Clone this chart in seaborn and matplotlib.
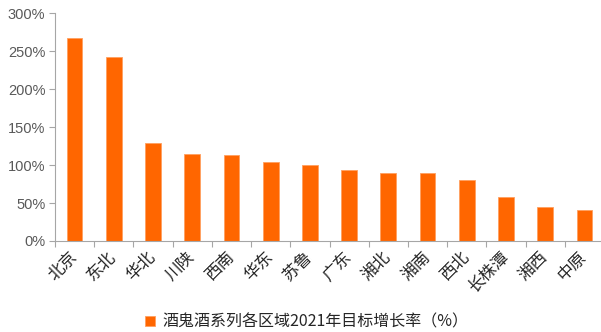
import matplotlib
matplotlib.use("Agg")
import matplotlib.pyplot as plt
import seaborn as sns
import pandas as pd
from matplotlib.ticker import FuncFormatter, FixedLocator

regions = ["北京", "东北", "华北", "川陕", "西南", "华东", "苏鲁", "广东",
           "湘北", "湘南", "西北", "长株潭", "湘西", "中原"]
growth_pct = [267, 243, 129.5, 115, 113, 104, 99.5, 93, 90, 89, 80, 58, 44.5, 41.5]
series_name = "酒鬼酒系列各区域2021年目标增长率（%）"
y_ticks = [0, 50, 100, 150, 200, 250, 300]

sns.set_theme(style="white")
plt.rcParams["font.family"] = ["Noto Sans CJK SC", "DejaVu Sans"]

df = pd.DataFrame({"region": regions, "growth": growth_pct})

fig = plt.figure(figsize=(6.01, 3.32), dpi=100)
ax = fig.add_axes([55 / 601, 91 / 332, 549 / 601, 227.7 / 332])

sns.barplot(data=df, x="region", y="growth", color="#FF6600", width=0.4,
            edgecolor="#FF9F5F", linewidth=0.6, saturation=1,
            label=series_name, ax=ax)

ax.set_xlim(-0.5, len(regions) - 0.5)
ax.set_ylim(0, 300)
ax.set_yticks(y_ticks)
ax.yaxis.set_major_formatter(FuncFormatter(lambda v, _: f"{v:.0f}%"))
for lab in ax.get_yticklabels():
    lab.set_fontfamily(["Liberation Sans", "DejaVu Sans"])
ax.tick_params(axis="y", labelsize=10.5, labelcolor="#595959", length=4,
               width=0.8, color="#A6A6A6", direction="out", left=True, pad=3)

# category boundaries carry the tick marks; labels stay at bar centres
ax.xaxis.set_minor_locator(FixedLocator([i - 0.5 for i in range(len(regions) + 1)]))
ax.tick_params(axis="x", which="minor", length=4, width=0.8, color="#A6A6A6",
               direction="out", bottom=True)
ax.tick_params(axis="x", which="major", length=0, pad=10, labelsize=12,
               labelcolor="#262626")
for lab in ax.get_xticklabels():
    lab.set_rotation(45)
    lab.set_ha("right")
    lab.set_va("center")
    lab.set_rotation_mode("anchor")

ax.set_xlabel("")
ax.set_ylabel("")
for side in ("top", "right"):
    ax.spines[side].set_visible(False)
for side in ("left", "bottom"):
    ax.spines[side].set_color("#A6A6A6")
    ax.spines[side].set_linewidth(0.8)

leg = ax.legend(loc="center", bbox_to_anchor=(307 / 601, 10 / 332),
                bbox_transform=fig.transFigure, frameon=False, fontsize=11.5,
                handlelength=0.6, handleheight=0.6, handletextpad=0.5)
for t in leg.get_texts():
    t.set_color("#262626")

fig.savefig("out.png", dpi=100)
